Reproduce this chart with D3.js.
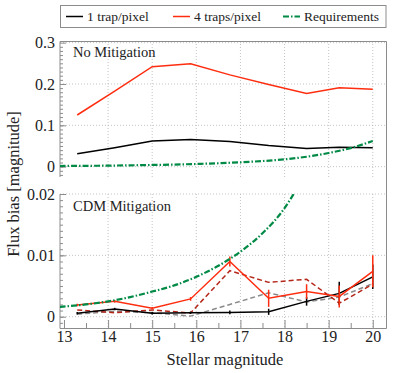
<!DOCTYPE html>
<html><head><meta charset="utf-8">
<script src="https://cdn.jsdelivr.net/npm/d3@7"></script>
<style>
html,body{margin:0;padding:0;background:#fff;}
</style></head>
<body><svg id="c" width="407" height="373" font-family="Liberation Serif"></svg>
<script>
// ---- data ----
const mags = [13.3, 14.15, 15.0, 15.87, 16.76, 17.64, 18.5, 19.24, 20.0];
const noMit1 = [0.031, 0.046, 0.062, 0.066, 0.061, 0.051, 0.044, 0.047, 0.046];
const noMit4 = [0.125, 0.183, 0.242, 0.249, 0.222, 0.199, 0.177, 0.191, 0.187];
const cdm1 = [0.00055, 0.00125, 0.00055, 0.00065, 0.0007, 0.0008, 0.0025, 0.0038, 0.0065];
const cdm1Err = [0.0002, 0.0002, 0.0002, 0.0002, 0.0003, 0.0005, 0.0007, 0.0019, 0.002];
const cdm4 = [0.0019, 0.0025, 0.0014, 0.0029, 0.0090, 0.0030, 0.0041, 0.0033, 0.0074];
const cdm4Err = [0.0002, 0.0002, 0.0002, 0.0003, 0.0008, 0.0014, 0.0012, 0.0018, 0.0026];
const cdm4Alt = [0.0011, 0.00065, 0.0011, 0.0006, 0.0075, 0.0056, 0.0061, 0.0022, 0.0053];
const cdm1Alt = [0.0004, 0.0009, 0.00065, 0.0001, 0.002, 0.0039, 0.0024, 0.0032, 0.0054];
const reqMags = [12.9, 13.5, 14, 14.5, 15, 15.5, 16, 16.5, 17, 17.5, 18, 18.5, 19, 19.5, 20];
const reqVals = [0.0016, 0.0020, 0.0025, 0.0032, 0.0041, 0.0051, 0.0065, 0.0083, 0.0106, 0.0136, 0.0177, 0.024, 0.033, 0.045, 0.062];
const xTicks = [13, 14, 15, 16, 17, 18, 19, 20];
const topTicks = [0, 0.1, 0.2, 0.3];
const botTicks = [0, 0.01, 0.02];
const legendLabels = ["1 trap/pixel", "4 traps/pixel", "Requirements"];

// ---- styles ----
const RED = "#ff2d0f", DARKRED = "#b5261a", GREEN = "#008a45", GRAY = "#8a8a8a", FRAME = "#8c8c8c";
const FONT = "Liberation Serif";
const TXT = "#222";

const svg = d3.select("#c");
const L = 60, R = 386, T1 = 41, B1 = 177, T2 = 194, B2 = 328;
const x = d3.scaleLinear().domain([12.91, 20.3]).range([L, R]);
const yTop = d3.scaleLinear().domain([-0.025, 0.304]).range([B1, T1]);
const yBot = d3.scaleLinear().domain([-0.00184, 0.02]).range([B2, T2]);

function styleText(sel, size) {
  sel.attr("font-family", FONT).attr("font-size", size).attr("fill", TXT);
}

const defs = svg.append("defs");
defs.append("clipPath").attr("id", "cTop").append("rect").attr("x", L).attr("y", T1).attr("width", R - L).attr("height", B1 - T1);
defs.append("clipPath").attr("id", "cBot").append("rect").attr("x", L).attr("y", T2).attr("width", R - L).attr("height", B2 - T2);

function grid(y, ticks, t, b) {
  const g = svg.append("g");
  g.selectAll(".v").data(xTicks.slice(1)).join("line")
    .attr("x1", d => x(d)).attr("x2", d => x(d)).attr("y1", t).attr("y2", b)
    .attr("stroke", "#bdbdbd").attr("stroke-width", 0.9).attr("stroke-dasharray", "1,2");
  g.selectAll(".h").data(ticks).join("line")
    .attr("x1", L).attr("x2", R).attr("y1", d => y(d)).attr("y2", d => y(d))
    .attr("stroke", "#bdbdbd").attr("stroke-width", 0.9).attr("stroke-dasharray", "1,2");
}
grid(yTop, topTicks, T1, B1);
grid(yBot, botTicks, T2, B2);

// y axes (ticks inward)
function yAxis(y, ticks, fmt, minorStep, top, bottom) {
  const minor = d3.range(y.domain()[0] - 1e-9, y.domain()[1], minorStep).map(v => Math.round(v / minorStep) * minorStep)
    .filter(v => y(v) >= top && y(v) <= bottom);
  const gm = svg.append("g").attr("transform", `translate(${L},0)`)
    .call(d3.axisLeft(y).tickValues(minor).tickSize(-3).tickFormat(""));
  gm.select(".domain").remove();
  gm.selectAll("line").attr("stroke", FRAME);
  const g = svg.append("g").attr("transform", `translate(${L},0)`)
    .call(d3.axisLeft(y).tickValues(ticks).tickSize(-6).tickPadding(5).tickFormat(fmt));
  g.attr("font-family", FONT).attr("font-size", 16);
  g.select(".domain").remove();
  g.selectAll("line").attr("stroke", FRAME);
  styleText(g.selectAll("text"), 16);
}
yAxis(yTop, topTicks, d => d === 0 ? "0" : d3.format(".1f")(d), 0.01, T1, B1);
yAxis(yBot, botTicks, d => d === 0 ? "0" : d3.format(".2f")(d), 0.001, T2, B2);

// x axis
const xm = svg.append("g").attr("transform", `translate(0,${B2})`)
  .call(d3.axisBottom(x).tickValues(d3.range(13.5, 20.3, 1)).tickSize(-5).tickFormat(""));
xm.select(".domain").remove(); xm.selectAll("line").attr("stroke", FRAME);
const xa = svg.append("g").attr("transform", `translate(0,${B2})`)
  .call(d3.axisBottom(x).tickValues(xTicks).tickSize(-8).tickPadding(3).tickFormat(d3.format("d")));
xa.attr("font-family", FONT).attr("font-size", 16);
xa.select(".domain").remove(); xa.selectAll("line").attr("stroke", FRAME);
styleText(xa.selectAll("text"), 16);

// frame
const fr = svg.append("g").attr("stroke", FRAME).attr("stroke-width", 1).attr("fill", "none");
fr.append("path").attr("d", `M${L},${B1}V${T1 + 0.5}H${R + 0.5}V${B2 + 0.5}H${L}V${T2}`);

// lines
const lineTop = d3.line().x((d, i) => x(mags[i])).y(d => yTop(d));
const lineBot = d3.line().x((d, i) => x(mags[i])).y(d => yBot(d));
const gTop = svg.append("g").attr("clip-path", "url(#cTop)").attr("fill", "none");
const gBot = svg.append("g").attr("clip-path", "url(#cBot)").attr("fill", "none");

gTop.append("path").attr("d", lineTop(noMit4)).attr("stroke", RED).attr("stroke-width", 1.5);
gTop.append("path").attr("d", lineTop(noMit1)).attr("stroke", "#000").attr("stroke-width", 1.5);

gBot.append("path").attr("d", lineBot(cdm1Alt)).attr("stroke", GRAY).attr("stroke-width", 1.5).attr("stroke-dasharray", "5,3");
gBot.append("path").attr("d", lineBot(cdm4Alt)).attr("stroke", DARKRED).attr("stroke-width", 1.5).attr("stroke-dasharray", "5,3");
gBot.append("path").attr("d", lineBot(cdm1)).attr("stroke", "#000").attr("stroke-width", 1.5);
gBot.selectAll(".e1").data(cdm1).join("line")
  .attr("x1", (d, i) => x(mags[i])).attr("x2", (d, i) => x(mags[i]))
  .attr("y1", (d, i) => yBot(d - cdm1Err[i])).attr("y2", (d, i) => yBot(d + cdm1Err[i]))
  .attr("stroke", "#000").attr("stroke-width", 1.5);
gBot.append("path").attr("d", lineBot(cdm4)).attr("stroke", RED).attr("stroke-width", 1.5);
gBot.selectAll(".e4").data(cdm4).join("line")
  .attr("x1", (d, i) => x(mags[i])).attr("x2", (d, i) => x(mags[i]))
  .attr("y1", (d, i) => yBot(d - cdm4Err[i])).attr("y2", (d, i) => yBot(d + cdm4Err[i]))
  .attr("stroke", RED).attr("stroke-width", 1.5);

// requirements
const reqTop = d3.line().curve(d3.curveMonotoneX).x((d, i) => x(reqMags[i])).y(d => yTop(d));
const reqBot = d3.line().curve(d3.curveMonotoneX).x((d, i) => x(reqMags[i])).y(d => yBot(d));
const DASHDOT = "6,2,1.5,2";
gTop.append("path").attr("d", reqTop(reqVals)).attr("stroke", GREEN).attr("stroke-width", 2.2).attr("stroke-dasharray", DASHDOT);
gBot.append("path").attr("d", reqBot(reqVals)).attr("stroke", GREEN).attr("stroke-width", 2.2).attr("stroke-dasharray", DASHDOT);

// panel labels
styleText(svg.append("text").attr("x", 73).attr("y", 57).text("No Mitigation"), 14.5);
styleText(svg.append("text").attr("x", 73).attr("y", 211).text("CDM Mitigation"), 14.5);

// axis titles
styleText(svg.append("text").attr("x", (L + R) / 2 + 2).attr("y", 365).attr("text-anchor", "middle").text("Stellar magnitude"), 16.5);
styleText(svg.append("text").attr("transform", "translate(19,184) rotate(-90)").attr("text-anchor", "middle").text("Flux bias [magnitude]"), 16.5);

// legend
const lg = svg.append("g");
lg.append("rect").attr("x", 60.5).attr("y", 5.5).attr("width", 325.5).attr("height", 22).attr("fill", "#fff").attr("stroke", FRAME);
const legItems = [
  {x0: 66, color: "#000", dash: null, w: 1.5},
  {x0: 173, color: RED, dash: null, w: 1.5},
  {x0: 283, color: GREEN, dash: DASHDOT, w: 2.2}
];
legItems.forEach((it, i) => {
  lg.append("line").attr("x1", it.x0).attr("x2", it.x0 + 17).attr("y1", 16.5).attr("y2", 16.5)
    .attr("stroke", it.color).attr("stroke-width", it.w).attr("stroke-dasharray", it.dash);
  styleText(lg.append("text").attr("x", it.x0 + 21).attr("y", 20.5).text(legendLabels[i]), 13.5);
});
</script></body></html>
